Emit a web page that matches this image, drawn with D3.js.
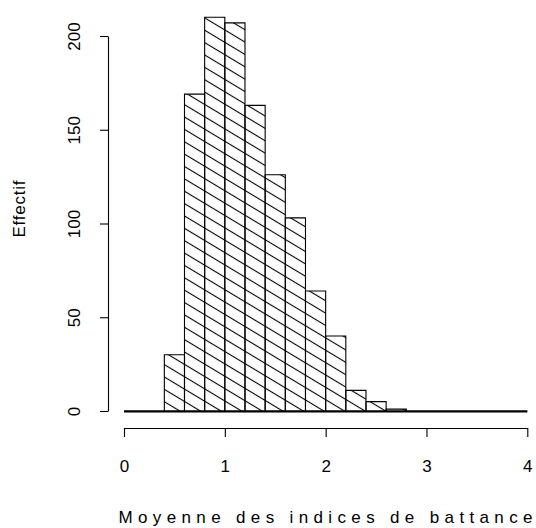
<!DOCTYPE html>
<html>
<head>
<meta charset="utf-8">
<script src="https://cdn.jsdelivr.net/npm/d3@7"></script>
<style>
  html, body { margin: 0; padding: 0; background: #fff; }
  svg { display: block; font-family: "Liberation Sans", Arial, sans-serif; }
</style>
</head>
<body>
<svg id="chart" width="536" height="528"></svg>
<script>
// ---- data ----
const binStarts = [0.0, 0.2, 0.4, 0.6, 0.8, 1.0, 1.2, 1.4, 1.6, 1.8, 2.0, 2.2, 2.4, 2.6, 2.8, 3.0, 3.2, 3.4, 3.6, 3.8];
const binEnds   = [0.2, 0.4, 0.6, 0.8, 1.0, 1.2, 1.4, 1.6, 1.8, 2.0, 2.2, 2.4, 2.6, 2.8, 3.0, 3.2, 3.4, 3.6, 3.8, 4.0];
const counts    = [0, 0, 30, 169, 210, 207, 163, 126, 103, 64, 40, 11, 5, 1, 0, 0, 0, 0, 0, 0];
const xTicks = [0, 1, 2, 3, 4];
const xTickLabels = ["0", "1", "2", "3", "4"];
const yTicks = [0, 50, 100, 150, 200];
const yTickLabels = ["0", "50", "100", "150", "200"];
const xTitle = "Moyenne des indices de battance";
const yTitle = "Effectif";

// ---- layout ----
const svg = d3.select("#chart");
const x = d3.scaleLinear().domain([0, 4]).range([124, 527.3]);
const y = d3.scaleLinear().domain([0, 200]).range([411, 36]);

// hatch pattern
const defs = svg.append("defs");
const pat = defs.append("pattern")
  .attr("id", "hatch")
  .attr("patternUnits", "userSpaceOnUse")
  .attr("width", 10)
  .attr("height", 10.6)
  .attr("patternTransform", "rotate(31)");
pat.append("line")
  .attr("x1", -1).attr("x2", 11)
  .attr("y1", 5.3).attr("y2", 5.3)
  .attr("stroke", "#000").attr("stroke-width", 1.1);

const bins = binStarts.map((s, i) => ({ x0: s, x1: binEnds[i], n: counts[i] }));

const gb = svg.append("g");
gb.selectAll("path")
  .data(bins)
  .join("path")
  .attr("d", d => {
    const xa = x(d.x0), xb = x(d.x1), ya = y(0), yb = y(d.n);
    return `M${xa},${ya}H${xb}V${yb}H${xa}Z`;
  })
  .attr("fill", d => d.n > 0 ? "url(#hatch)" : "none")
  .attr("stroke", "#000")
  .attr("stroke-width", 1.1);

// bar bottoms (drawn twice in the original, so they look heavier)
gb.append("line")
  .attr("x1", x(binStarts[0])).attr("x2", x(binEnds[binEnds.length - 1]))
  .attr("y1", y(0) + 0.5).attr("y2", y(0) + 0.5)
  .attr("stroke", "#000").attr("stroke-width", 2);

// x axis
const gx = svg.append("g")
  .attr("transform", "translate(0,428)")
  .call(d3.axisBottom(x).tickValues(xTicks).tickFormat((d, i) => xTickLabels[i])
    .tickSize(9).tickSizeOuter(0).tickPadding(23));
gx.selectAll("path, line").attr("stroke", "#000").attr("stroke-width", 1.1);
gx.selectAll("text").attr("font-size", 17).attr("font-family", "Liberation Sans, Arial, sans-serif").attr("fill", "#000");

// y axis
const gy = svg.append("g")
  .attr("transform", "translate(108,0)")
  .call(d3.axisLeft(y).tickValues(yTicks).tickFormat((d, i) => yTickLabels[i])
    .tickSize(8).tickSizeOuter(0));
gy.selectAll("path, line").attr("stroke", "#000").attr("stroke-width", 1.1);
gy.selectAll(".tick text")
  .attr("transform", "rotate(-90)")
  .attr("x", 0).attr("y", -28).attr("dy", 0)
  .attr("text-anchor", "middle")
  .attr("font-size", 17)
  .attr("font-family", "Liberation Sans, Arial, sans-serif")
  .attr("fill", "#000");

// titles
svg.append("text")
  .attr("x", 325.5).attr("y", 523)
  .attr("text-anchor", "middle")
  .attr("font-size", 17)
  .attr("textLength", 414)
  .attr("lengthAdjust", "spacing")
  .text(xTitle);

svg.append("text")
  .attr("transform", "translate(25,209) rotate(-90)")
  .attr("text-anchor", "middle")
  .attr("font-size", 17)
  .attr("textLength", 57)
  .attr("lengthAdjust", "spacing")
  .text(yTitle);
</script>
</body>
</html>
